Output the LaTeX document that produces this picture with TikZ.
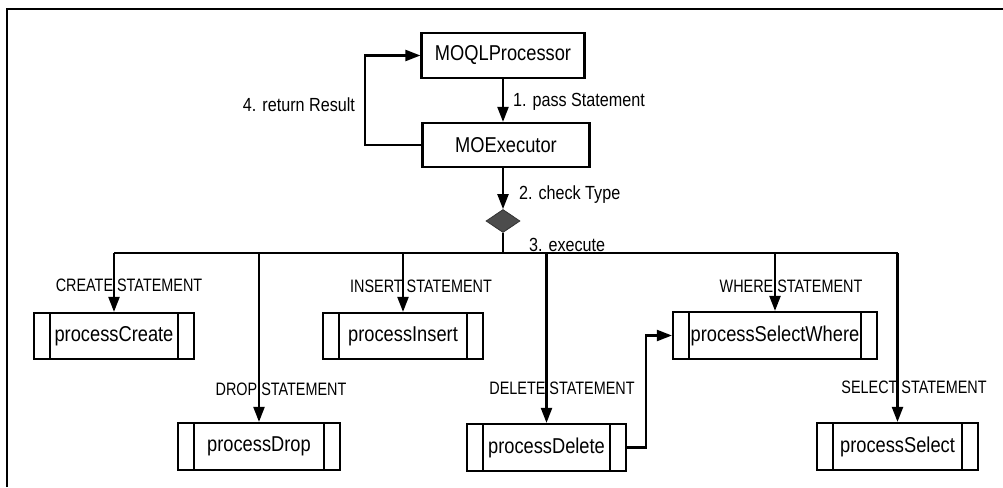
\documentclass[tikz,border=0pt]{standalone}
\usepackage{fontspec}
\setmainfont{Liberation Sans}
\newfontfamily\boxfont{Liberation Sans}[FakeStretch=0.85]
\newfontfamily\capfont{Liberation Sans}[FakeStretch=0.8]
\usetikzlibrary{arrows.meta,shapes.geometric}

\tikzset{
  box/.style={draw, rectangle, inner sep=0pt,
    font=\boxfont\fontsize{21.5}{24}\selectfont},
  proc/.style={box,
    path picture={\draw
      ([xshift=16pt]path picture bounding box.north west) --
      ([xshift=16pt]path picture bounding box.south west)
      ([xshift=-16pt]path picture bounding box.north east) --
      ([xshift=-16pt]path picture bounding box.south east);}},
  flow/.style={draw, -{Triangle[length=15pt,width=11pt]}},
  plain/.style={draw},
  steplabel/.style={inner sep=0pt, font=\boxfont\fontsize{19}{22}\selectfont},
  caselabel/.style={inner sep=0pt, font=\capfont\fontsize{18}{20}\selectfont},
  decision/.style={diamond, fill=black!70, draw=black!80, line width=0.8pt,
    inner sep=0pt, minimum width=34pt, minimum height=23pt}
}

\begin{document}
\begin{tikzpicture}[x=1pt, y=-1pt, line width=2.2pt]
\useasboundingbox (0,0) rectangle (1003,487);

% frame edges
\draw[line width=2.6pt] (7,487) -- (7,9) -- (1003,9);

% main components
\node[box, minimum width=163pt, minimum height=45pt] (moql) at (503,55.5) {MOQLProcessor};
\node[box, minimum width=167pt, minimum height=44pt] (moexec) at (506,145) {MOExecutor};
\node[decision] (dia) at (503,221) {};

% statement handlers
\node[proc, minimum width=160pt, minimum height=46pt] (create) at (114,336) {processCreate};
\node[proc, minimum width=160pt, minimum height=46pt] (insert) at (403,336) {processInsert};
\node[proc, minimum width=204pt, minimum height=47pt] (where) at (775,335.5) {processSelectWhere};
\node[proc, minimum width=162pt, minimum height=47pt] (drop) at (259,446.5) {processDrop};
\node[proc, minimum width=159pt, minimum height=47pt] (delete) at (546.5,447.5) {processDelete};
\node[proc, minimum width=161pt, minimum height=47pt] (select) at (897.5,446.5) {processSelect};

% dispatch bus
\coordinate (bus) at (503,253);
\coordinate (loop) at (365,0);
\coordinate (jog) at (646,0);

% control flow
\path[flow] (moql.south -| dia) -- (moexec.north -| dia);
\path[flow] (moexec.south -| dia) -- (dia.north);
\path[plain] (dia.south) -- (bus);
\path[plain] (create.north |- bus) -- (select.north |- bus);
\path[flow] (moexec.west) -- (loop |- moexec.west) -- (loop |- moql.west) -- (moql.west);

\path[flow] (create.north |- bus) -- (create.north);
\path[flow] (drop.north |- bus) -- (drop.north);
\path[flow] (insert.north |- bus) -- (insert.north);
\path[flow] (delete.north |- bus) -- (delete.north);
\path[flow] (where.north |- bus) -- (where.north);
\path[flow] (select.north |- bus) -- (select.north);
\path[flow] (delete.east) -- (jog |- delete.east) -- (jog |- where.west) -- (where.west);

% step labels
\node[steplabel, anchor=west] (l1) at (512,102) {1. pass Statement};
\node[steplabel, anchor=west] (l2) at (518,195) {2. check Type};
\node[steplabel, anchor=west] (l3) at (528,245) {3. execute};
\node[steplabel, anchor=east] (l4) at (356,105) {4. return Result};

% statement type labels
\node[caselabel] (cCreate) at (129,285) {CREATE STATEMENT};
\node[caselabel] (cInsert) at (421,286) {INSERT STATEMENT};
\node[caselabel] (cWhere) at (791,286) {WHERE STATEMENT};
\node[caselabel] (cDrop) at (281,389) {DROP STATEMENT};
\node[caselabel] (cDelete) at (562,388) {DELETE STATEMENT};
\node[caselabel] (cSelect) at (914,387) {SELECT STATEMENT};
\end{tikzpicture}
\end{document}
